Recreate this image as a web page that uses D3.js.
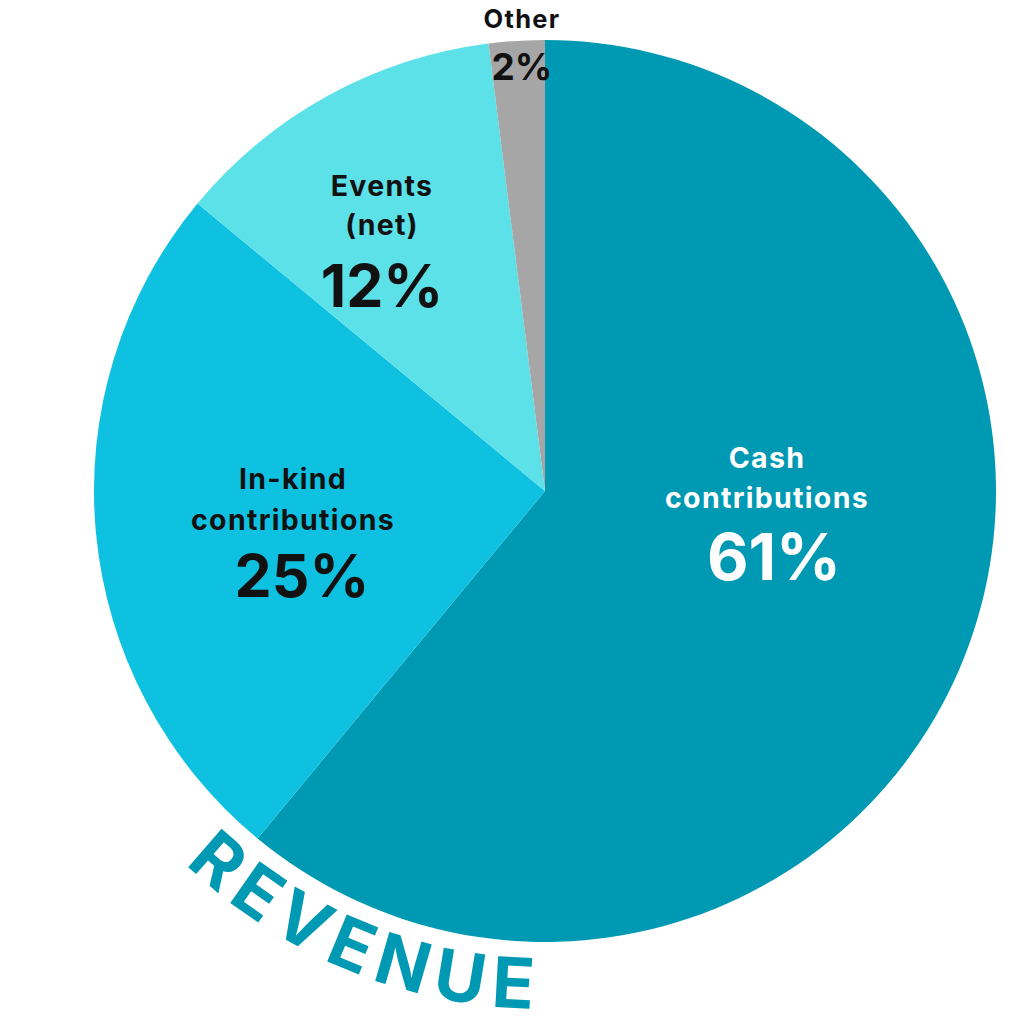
<!DOCTYPE html>
<html>
<head>
<meta charset="utf-8">
<script src="https://cdn.jsdelivr.net/npm/d3@7"></script>
<style>
  html, body { margin: 0; padding: 0; background: #fff; }
  svg { display: block; }
  text { font-family: Inter, "Open Sans", sans-serif; font-weight: 700; }
</style>
</head>
<body>
<svg id="chart" width="1024" height="1024"></svg>
<script>
// ---- data ----
const categories = ["Cash contributions", "In-kind contributions", "Events (net)", "Other"];
const labelLines = [["Cash", "contributions"], ["In-kind", "contributions"], ["Events", "(net)"], ["Other"]];
const values = [61, 25, 12, 2];
const colors = ["#0099b3", "#0ec1e0", "#5ce1e8", "#a6a6a6"];
const title = "REVENUE";

// ---- layout (not data) ----
const W = 1024, H = 1024;
const cx = 545, cy = 491, R = 451;
// label anchor offsets relative to the center, line font sizes
const labelLayout = [
  { dx: 222, lines: [-23, 17], pct: { dx: 229, dy: 89, size: 64 }, size: 28.5, fill: "#ffffff" },
  { dx: -252, lines: [-2, 39], pct: { dx: -243, dy: 106, size: 59 }, size: 28.5, fill: "#111111" },
  { dx: -163, lines: [-295, -256], pct: { dx: -163, dy: -184, size: 59 }, size: 28.5, fill: "#111111" },
  { dx: -23, lines: [-463], pct: { dx: -23, dy: -411, size: 37 }, size: 25.5, fill: "#111111" }
];

const svg = d3.select("#chart");
const g = svg.append("g").attr("transform", `translate(${cx},${cy})`);

const pie = d3.pie().sort(null).value(d => d);
const arcs = pie(values);
const arc = d3.arc().innerRadius(0).outerRadius(R);

g.selectAll("path.slice")
  .data(arcs)
  .join("path")
  .attr("class", "slice")
  .attr("d", arc)
  .attr("fill", (d, i) => colors[i]);

// labels
arcs.forEach((a, i) => {
  const L = labelLayout[i];
  labelLines[i].forEach((t, j) => {
    g.append("text")
      .attr("x", L.dx).attr("y", L.lines[j])
      .attr("text-anchor", "middle")
      .attr("font-size", L.size)
      .attr("letter-spacing", 1.3)
      .attr("fill", L.fill)
      .text(t);
  });
  g.append("text")
    .attr("x", L.pct.dx).attr("y", L.pct.dy)
    .attr("text-anchor", "middle")
    .attr("font-size", L.pct.size)
    .attr("fill", L.fill)
    .text(values[i] + "%");
});

// curved title
const tr = 518;
const a0 = 224 * Math.PI / 180, aEnd = 181.3 * Math.PI / 180, a1 = 165 * Math.PI / 180;
const p = a => [tr * Math.sin(a), -tr * Math.cos(a)];
const [x0, y0] = p(a0), [x1, y1] = p(a1);
g.append("path")
  .attr("id", "titlePath")
  .attr("d", `M${x0},${y0} A${tr},${tr} 0 0 0 ${x1},${y1}`)
  .attr("fill", "none");
const titleText = g.append("text")
  .attr("font-size", 70)
  .attr("font-weight", 800)
  .attr("fill", "#0099b3");
const tp = titleText.append("textPath")
  .attr("href", "#titlePath")
  .attr("startOffset", 0)
  .text(title);
const target = tr * (a0 - aEnd);
const natural = titleText.node().getComputedTextLength();
const spacing = (target - natural) / (title.length - 1);
titleText.attr("letter-spacing", spacing);
</script>
</body>
</html>
